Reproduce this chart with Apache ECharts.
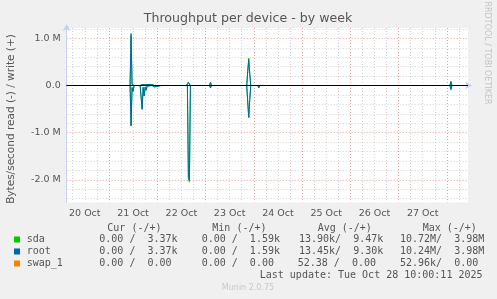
<!DOCTYPE html>
<html><head><meta charset="utf-8">
<script src="https://cdn.jsdelivr.net/npm/echarts@6/dist/echarts.min.js"></script>
<style>html,body{margin:0;padding:0;background:#f0f0f0}#c{width:497px;height:299px}</style>
</head><body><div id="c"></div>
<script>
// sample times (UTC), 30-minute RRD resolution; only samples around activity are listed
const sampleTimes = [
 '2025-10-20 03:00','2025-10-21 10:30','2025-10-21 11:00','2025-10-21 11:30','2025-10-21 12:00','2025-10-21 12:30',
 '2025-10-21 15:30','2025-10-21 16:00','2025-10-21 16:30','2025-10-21 17:00','2025-10-21 17:30','2025-10-21 18:00',
 '2025-10-21 18:30','2025-10-21 19:00','2025-10-21 21:30','2025-10-21 22:00','2025-10-21 22:30','2025-10-21 23:00',
 '2025-10-22 02:00','2025-10-22 02:30','2025-10-22 03:00','2025-10-22 14:00','2025-10-22 14:30','2025-10-22 15:00',
 '2025-10-22 15:30','2025-10-22 16:00','2025-10-22 16:30','2025-10-22 22:00','2025-10-22 22:30','2025-10-22 23:00',
 '2025-10-23 02:00','2025-10-23 02:30','2025-10-23 03:00','2025-10-23 20:30','2025-10-23 21:00','2025-10-23 21:30',
 '2025-10-23 22:00','2025-10-23 22:30','2025-10-24 02:00','2025-10-24 02:30','2025-10-24 03:00','2025-10-27 02:00',
 '2025-10-27 02:30','2025-10-27 03:00','2025-10-28 01:30','2025-10-28 02:00','2025-10-28 02:30','2025-10-28 10:30'
];
// bytes/second
const rootWrite = [0,0,1.10e6,0.02e6,0,0, 0,0.02e6,0.02e6,0.02e6,0.02e6,0.02e6, 0.02e6,0.02e6,0.02e6,0,0,0,
 0,0.01e6,0,0,0.02e6,0.02e6, 0.07e6,0.05e6,0,0,0,0, 0,0.07e6,0,0,0.30e6,0.55e6, 0.25e6,0,0,0.035e6,0,0, 0.035e6,0,0,0.085e6,0,0];
const rootRead  = [0,0,0.86e6,0.04e6,0.12e6,0, 0,0.03e6,0.50e6,0.04e6,0.22e6,0.03e6, 0.10e6,0.01e6,0,0,0.03e6,0,
 0,0.03e6,0,0,0,0, 1.95e6,2.00e6,0,0,0.03e6,0, 0,0.05e6,0,0,0.35e6,0.67e6, 0.30e6,0,0,0.05e6,0,0, 0,0,0,0.085e6,0,0];
const sdaWrite  = [0,0,1.05e6,0.02e6,0,0, 0,0.02e6,0.02e6,0.02e6,0.02e6,0.02e6, 0.02e6,0.02e6,0.02e6,0,0,0,
 0,0.01e6,0,0,0.02e6,0.02e6, 0.07e6,0.05e6,0,0,0,0, 0,0.07e6,0,0,0.30e6,0.58e6, 0.25e6,0,0,0.035e6,0,0, 0.035e6,0,0,0.085e6,0,0];
const sdaRead   = [0,0,0.84e6,0.05e6,0.13e6,0, 0,0.03e6,0.51e6,0.04e6,0.22e6,0.03e6, 0.10e6,0.01e6,0,0,0.03e6,0,
 0,0.03e6,0,0,0,0, 1.98e6,2.05e6,0,0,0.03e6,0, 0,0.05e6,0,0,0.35e6,0.69e6, 0.30e6,0,0,0.05e6,0,0, 0,0,0,0.085e6,0,0];
const swapTimes = ['2025-10-20 03:00','2025-10-28 10:30'];
const swapWrite = [0,0];
const swapRead  = [0,0];
// horizontal zero rule (HRULE 0 #000000)
const zeroRuleTimes = ['2025-10-20 03:00','2025-10-28 10:30'];
const zeroRuleValues = [0,0];

const yTickLabels = ['-2.0 M','-1.0 M','0.0','1.0 M'];
const legendNames = ['sda','root','swap_1'];
const legendColors = ['#00cc00','#0066b3','#ff8000'];
const legendHeaders = ['Cur (-/+)','Min (-/+)','Avg (-/+)','Max (-/+)'];
const legendCur = ['0.00 /  3.37k','0.00 /  3.37k','0.00 /  0.00'];
const legendMin = ['0.00 /  1.59k','0.00 /  1.59k','0.00 /  0.00'];
const legendAvg = ['13.90k/  9.47k','13.45k/  9.30k','52.38 /  0.00'];
const legendMax = ['10.72M/  3.98M','10.24M/  3.98M','52.96k/  0.00'];
const lastUpdate = 'Last update: Tue Oct 28 10:00:11 2025';

function ts(s){const [d,t]=s.split(' ');const [Y,M,D]=d.split('-').map(Number);const [h,m]=t.split(':').map(Number);return Date.UTC(Y,M-1,D,h,m);}
const H = 3600*1000;
const xMin = ts('2025-10-20 03:00'), xMax = ts('2025-10-28 10:30');
const MON = ['Jan','Feb','Mar','Apr','May','Jun','Jul','Aug','Sep','Oct','Nov','Dec'];

const GRAY = '#d2d2d2', RED = '#eaa0a0', T = 'rgba(0,0,0,0)';
const xColors = [T,GRAY,T,GRAY,T,GRAY,T,RED];
const yColors = [];
for (let i=0;i<25;i++) yColors.push(i===12?RED:(i%5===2?GRAY:T));

function mk(times, vals, sign){return times.map((t,i)=>[ts(t), sign*vals[i]]);}
function line(name,color,data,extra){return Object.assign({name,type:'line',data,showSymbol:false,symbol:'none',
  lineStyle:{width:1,color},itemStyle:{color},animation:false,clip:true,z:2},extra||{});}

const FONT='DejaVu Sans', MONO='DejaVu Sans Mono', TXT='#555';
const graphics = [
 {type:'text',x:248,y:19,style:{text:'Throughput per device - by week',font:'12.6px '+FONT,fill:'#555',align:'center',verticalAlign:'middle'}},
 {type:'text',x:11,y:119,rotation:Math.PI/2,style:{text:'Bytes/second read (-) / write (+)',font:'10.5px '+FONT,fill:TXT,align:'center',verticalAlign:'middle'}},
 {type:'text',x:487,y:53,rotation:-Math.PI/2,style:{text:'RRDTOOL / TOBI OETIKER',font:'8px '+FONT,fill:'#c4c4c4',align:'center',verticalAlign:'middle'}},
 {type:'text',x:248,y:288,style:{text:'Munin 2.0.75',font:'8px '+FONT,fill:'#c8c8c8',align:'center',verticalAlign:'middle'}},
 {type:'text',x:482.5,y:275.5,style:{text:lastUpdate,font:'10px '+MONO,fill:TXT,align:'right',verticalAlign:'middle'}}
];
const hx=[107.3,212.3,317.7,422.7];
legendHeaders.forEach((h,i)=>graphics.push({type:'text',x:hx[i],y:228,style:{text:h,font:'10px '+MONO,fill:TXT,verticalAlign:'middle'}}));
const cx=[99.3,201.7,299,400];
legendNames.forEach((n,r)=>{
  const y=239.5+12*r;
  graphics.push({type:'rect',shape:{x:14,y:y-3,width:6,height:6},style:{fill:legendColors[r]}});
  graphics.push({type:'text',x:26.7,y,style:{text:n,font:'10px '+MONO,fill:TXT,verticalAlign:'middle'}});
  [legendCur,legendMin,legendAvg,legendMax].forEach((col,c)=>{
    let x=cx[c]; if(c===2 && col[r].indexOf('k/')<0) x=297.7;
    graphics.push({type:'text',x,y,style:{text:col[r],font:'10px '+MONO,fill:TXT,verticalAlign:'middle'}});
  });
});

const chart = echarts.init(document.getElementById('c'),null,{renderer:'canvas'});
chart.setOption({
  backgroundColor:'#f0f0f0',
  animation:false,
  textStyle:{fontFamily:FONT},
  grid:{left:66.7,right:29,top:28,bottom:96.6,show:true,backgroundColor:'#fff',borderWidth:0,outerBoundsMode:'none'},
  xAxis:{type:'value',min:xMin,max:xMax,interval:3*H,
    axisLine:{show:true,lineStyle:{color:'#c8cff2',width:1},symbol:['none','arrow'],symbolSize:[6,7],symbolOffset:[0,4]},
    axisTick:{show:false},
    splitLine:{show:true,showMaxLine:false,lineStyle:{color:xColors,type:[1,2],width:1}},
    axisLabel:{margin:6,color:TXT,fontSize:9.5,fontFamily:FONT,
      formatter:v=>{const d=new Date(v);return (d.getUTCHours()===12&&d.getUTCMinutes()===0)?(d.getUTCDate()+' '+MON[d.getUTCMonth()]):'';}}},
  yAxis:{type:'value',min:-2480000,max:1220000,interval:40000,
    axisLine:{show:true,lineStyle:{color:'#c8cff2',width:1},symbol:['none','arrow'],symbolSize:[6,7],symbolOffset:[0,4]},
    axisTick:{show:false},
    splitLine:{show:true,showMaxLine:false,lineStyle:{color:yColors,type:[1,2],width:1}},
    axisLabel:{margin:6,color:TXT,fontSize:9.5,fontFamily:FONT,
      formatter:v=>{if(Math.abs(v%1000000)>1)return '';const k=Math.round(v/1000000)+2;return yTickLabels[k]||'';}}},
  series:[
    line('swap_1 read',legendColors[2],mk(swapTimes,swapRead,-1),{z:1}),
    line('swap_1 write',legendColors[2],mk(swapTimes,swapWrite,1),{z:1}),
    line('sda write',legendColors[0],mk(sampleTimes,sdaWrite,1)),
    line('sda read',legendColors[0],mk(sampleTimes,sdaRead,-1)),
    line('root write',legendColors[1],mk(sampleTimes,rootWrite,1)),
    line('root read',legendColors[1],mk(sampleTimes,rootRead,-1)),
    line('zero','#000000',mk(zeroRuleTimes,zeroRuleValues,1),{z:10,silent:true})
  ],
  graphic:graphics
});
</script></body></html>
